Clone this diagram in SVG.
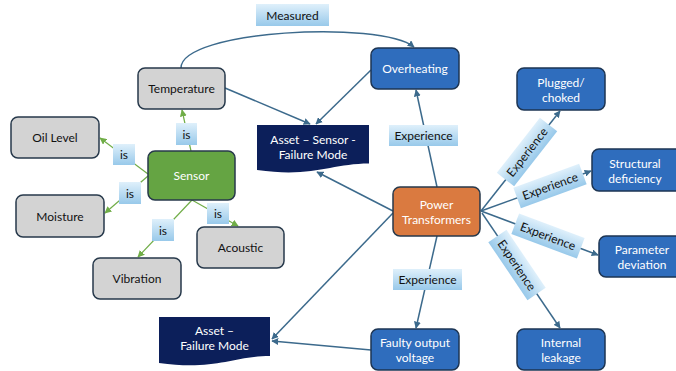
<svg xmlns="http://www.w3.org/2000/svg" width="676" height="371" viewBox="0 0 676 371">
<defs>
<linearGradient id="lbl" x1="0" y1="0" x2="0" y2="1">
<stop offset="0" stop-color="#dff0fb"/>
<stop offset="1" stop-color="#98c9ea"/>
</linearGradient>
<marker id="ab" viewBox="0 0 10 10" refX="9" refY="5" markerWidth="7" markerHeight="7" markerUnits="userSpaceOnUse" orient="auto">
<path d="M0,0 L10,5 L0,10 Z" fill="#3c6a8c"/>
</marker>
<marker id="ag" viewBox="0 0 10 10" refX="9" refY="5" markerWidth="7" markerHeight="7" markerUnits="userSpaceOnUse" orient="auto">
<path d="M0,0 L10,5 L0,10 Z" fill="#70ad47"/>
</marker>
</defs>
<style>
text{font-family:Lato,"Liberation Sans",sans-serif;font-size:12px;text-anchor:middle;dominant-baseline:central}
.gray{fill:#d3d3d3;stroke:#27394b;stroke-width:1.5}
.blue{fill:#2f6dbd;stroke:#1d3553;stroke-width:1.5}
.green{fill:#65a443;stroke:#27394b;stroke-width:1.5}
.orange{fill:#da7a40;stroke:#27394b;stroke-width:1.5}
.navy{fill:#0c1f5a}
.dk{fill:#111}
.wt{fill:#fff}
.lb{fill:url(#lbl)}
.cb{fill:none;stroke:#3c6a8c;stroke-width:1.5;marker-end:url(#ab)}
.cbn{fill:none;stroke:#3c6a8c;stroke-width:1.5}
.cg{fill:none;stroke:#70ad47;stroke-width:1.2;marker-end:url(#ag)}
</style>
<g id="connectors">
<path class="cb" d="M181,68 C181,30 380,20 414,47"/>
<line class="cb" x1="225" y1="88" x2="310" y2="124"/>
<line class="cb" x1="371" y1="70" x2="316" y2="124"/>
<line class="cb" x1="393" y1="211" x2="317" y2="172"/>
<line class="cb" x1="393" y1="213" x2="272" y2="339"/>
<line class="cb" x1="371" y1="350" x2="272" y2="341"/>
<line class="cb" x1="437" y1="187" x2="416" y2="90"/>
<line class="cb" x1="437" y1="236" x2="416" y2="328"/>
<line class="cb" x1="481" y1="211" x2="560" y2="111"/>
<line class="cb" x1="481" y1="211" x2="591" y2="171"/>
<line class="cb" x1="481" y1="211" x2="598" y2="255"/>
<line class="cb" x1="482" y1="213" x2="560" y2="328"/>
<line class="cg" x1="191" y1="151" x2="182" y2="110"/>
<line class="cg" x1="148" y1="174" x2="100" y2="138"/>
<line class="cg" x1="148" y1="176" x2="105" y2="213"/>
<line class="cg" x1="192" y1="200" x2="138" y2="257"/>
<line class="cg" x1="192" y1="200" x2="238" y2="226"/>
</g>
<g id="labels">
<rect class="lb" x="256" y="4" width="73" height="22"/><text class="dk" x="292.5" y="15">Measured</text>
<rect class="lb" x="176" y="123" width="21" height="22"/><text class="dk" x="186.5" y="134">is</text>
<rect class="lb" x="113" y="144" width="22" height="21"/><text class="dk" x="124" y="154.5">is</text>
<rect class="lb" x="119" y="182" width="22" height="22"/><text class="dk" x="130" y="193">is</text>
<rect class="lb" x="152" y="219" width="22" height="22"/><text class="dk" x="163" y="230">is</text>
<rect class="lb" x="207" y="203" width="22" height="21"/><text class="dk" x="218" y="213.5">is</text>
<rect class="lb" x="389" y="125" width="69" height="21"/><text class="dk" x="423.5" y="135.5">Experience</text>
<rect class="lb" x="393" y="269" width="69" height="21"/><text class="dk" x="427.5" y="279.5">Experience</text>
<g transform="translate(527,152) rotate(-52)"><rect class="lb" x="-35" y="-11" width="70" height="22"/><text class="dk" x="0" y="0">Experience</text></g>
<g transform="translate(550,186) rotate(-20)"><rect class="lb" x="-35" y="-11" width="70" height="22"/><text class="dk" x="0" y="0">Experience</text></g>
<g transform="translate(548,236) rotate(20.6)"><rect class="lb" x="-35" y="-11" width="70" height="22"/><text class="dk" x="0" y="0">Experience</text></g>
<g transform="translate(517,265) rotate(56)"><rect class="lb" x="-35" y="-11" width="70" height="22"/><text class="dk" x="0" y="0">Experience</text></g>
</g>
<g id="temperature"><rect class="gray" x="138" y="68" width="87" height="41" rx="7"/><text class="dk" x="181.5" y="88.5">Temperature</text></g>
<g id="oil-level"><rect class="gray" x="11" y="117" width="88" height="41" rx="7"/><text class="dk" x="55" y="137.5">Oil Level</text></g>
<g id="sensor"><rect class="green" x="148" y="151" width="87" height="49" rx="7"/><text class="wt" x="191.5" y="175.5">Sensor</text></g>
<g id="moisture"><rect class="gray" x="16" y="195" width="88" height="42" rx="7"/><text class="dk" x="60" y="216">Moisture</text></g>
<g id="vibration"><rect class="gray" x="93" y="258" width="88" height="41" rx="7"/><text class="dk" x="137" y="278.5">Vibration</text></g>
<g id="acoustic"><rect class="gray" x="197" y="227" width="87" height="41" rx="7"/><text class="dk" x="240.5" y="247.5">Acoustic</text></g>
<g id="asset-sensor-failure-mode"><path class="navy" d="M257,125 H369 V163.5 C331,163.5 313,178 257,170 Z"/><text class="wt" x="313" y="139">Asset – Sensor -</text><text class="wt" x="313" y="154">Failure Mode</text></g>
<g id="asset-failure-mode"><path class="navy" d="M159,317 H270 V356 C233,356 215,371 159,363 Z"/><text class="wt" x="214.5" y="330.5">Asset –</text><text class="wt" x="214.5" y="345.5">Failure Mode</text></g>
<g id="overheating"><rect class="blue" x="371" y="48" width="88" height="41" rx="7"/><text class="wt" x="415" y="68.5">Overheating</text></g>
<g id="plugged-choked"><rect class="blue" x="517" y="68" width="88" height="42" rx="7"/><text class="wt" x="561" y="82">Plugged/</text><text class="wt" x="561" y="97">choked</text></g>
<g id="structural-deficiency"><rect class="blue" x="592" y="149" width="90" height="42" rx="7"/><text class="wt" x="635" y="163">Structural</text><text class="wt" x="635" y="178">deficiency</text></g>
<g id="power-transformers"><rect class="orange" x="393" y="187" width="87" height="49" rx="7"/><text class="wt" x="436.5" y="204">Power</text><text class="wt" x="436.5" y="219">Transformers</text></g>
<g id="parameter-deviation"><rect class="blue" x="599" y="236" width="90" height="41" rx="7"/><text class="wt" x="642" y="249">Parameter</text><text class="wt" x="642" y="264">deviation</text></g>
<g id="faulty-output-voltage"><rect class="blue" x="371" y="329" width="88" height="41" rx="7"/><text class="wt" x="415" y="342">Faulty output</text><text class="wt" x="415" y="357">voltage</text></g>
<g id="internal-leakage"><rect class="blue" x="517" y="329" width="88" height="41" rx="7"/><text class="wt" x="561" y="342">Internal</text><text class="wt" x="561" y="357">leakage</text></g>
</svg>
